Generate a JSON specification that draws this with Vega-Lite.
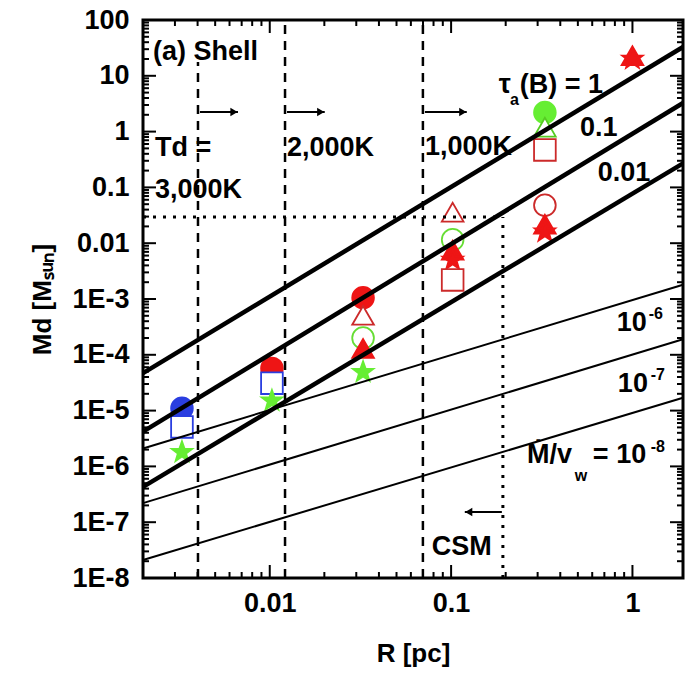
{
  "$schema": "https://vega.github.io/schema/vega-lite/v6.json",
  "width": 540,
  "height": 558,
  "autosize": {"type": "none"},
  "padding": {"left": 143, "top": 20, "right": 11, "bottom": 96},
  "background": "white",
  "config": {
    "view": {"stroke": "black", "strokeWidth": 3},
    "axis": {
      "domain": false, "grid": false, "ticks": false,
      "labelFont": "Liberation Sans", "labelFontWeight": "bold", "labelFontSize": 27, "labelColor": "black",
      "titleFont": "Liberation Sans", "titleFontWeight": "bold", "titleFontSize": 26, "titleColor": "black",
      "labelOverlap": false, "labelFlush": false
    },
    "text": {"font": "Liberation Sans", "fontWeight": "bold", "color": "black"}
  },
  "datasets": {
    "markers": [
      {"series": "blue filled circle", "R": 0.00328, "M": 1.1e-5},
      {"series": "blue open square", "R": 0.00328, "M": 5.1e-6},
      {"series": "green filled star", "R": 0.00328, "M": 1.8e-6},
      {"series": "red filled circle", "R": 0.01028, "M": 5.7e-5},
      {"series": "blue open square", "R": 0.01028, "M": 3.1e-5},
      {"series": "green filled star", "R": 0.01028, "M": 1.5e-5},
      {"series": "red filled circle", "R": 0.0327, "M": 1.05e-3},
      {"series": "red open triangle", "R": 0.0327, "M": 5.1e-4},
      {"series": "green open circle", "R": 0.0327, "M": 2.0e-4},
      {"series": "red filled triangle", "R": 0.0327, "M": 1.3e-4},
      {"series": "green filled star", "R": 0.0327, "M": 4.9e-5},
      {"series": "red open triangle", "R": 0.102, "M": 0.036},
      {"series": "green open circle", "R": 0.102, "M": 0.0115},
      {"series": "red filled triangle", "R": 0.102, "M": 0.0075},
      {"series": "red filled star", "R": 0.102, "M": 0.005},
      {"series": "red open square", "R": 0.102, "M": 0.0022},
      {"series": "green filled circle", "R": 0.329, "M": 2.2},
      {"series": "green open triangle", "R": 0.329, "M": 1.2},
      {"series": "red open square", "R": 0.329, "M": 0.47},
      {"series": "red open circle", "R": 0.329, "M": 0.048},
      {"series": "red filled triangle", "R": 0.329, "M": 0.022},
      {"series": "red filled star", "R": 0.329, "M": 0.016},
      {"series": "red filled triangle", "R": 1.0, "M": 23},
      {"series": "red filled star", "R": 1.0, "M": 20}
    ],
    "lines": [
      {"line": "tau=1", "width": "thick", "R": 0.002, "M": 4.7e-5},
      {"line": "tau=1", "width": "thick", "R": 1.9, "M": 32.8},
      {"line": "tau=0.1", "width": "thick", "R": 0.002, "M": 4.2e-6},
      {"line": "tau=0.1", "width": "thick", "R": 1.9, "M": 3.26},
      {"line": "tau=0.01", "width": "thick", "R": 0.002, "M": 4.3e-7},
      {"line": "tau=0.01", "width": "thick", "R": 1.9, "M": 0.27},
      {"line": "Mdot/vw=1e-6", "width": "thin", "R": 0.002, "M": 2.1e-6},
      {"line": "Mdot/vw=1e-6", "width": "thin", "R": 1.9, "M": 1.8e-3},
      {"line": "Mdot/vw=1e-7", "width": "thin", "R": 0.002, "M": 2.2e-7},
      {"line": "Mdot/vw=1e-7", "width": "thin", "R": 1.9, "M": 1.9e-4},
      {"line": "Mdot/vw=1e-8", "width": "thin", "R": 0.002, "M": 2.1e-8},
      {"line": "Mdot/vw=1e-8", "width": "thin", "R": 1.9, "M": 1.7e-5}
    ],
    "tdlines": [
      {"name": "3000K", "R": 0.00402, "M1": 1e-8, "M2": 17.7},
      {"name": "2000K", "R": 0.01214, "M1": 1e-8, "M2": 100},
      {"name": "1000K", "R": 0.0699, "M1": 1e-8, "M2": 100}
    ],
    "csmv": [{"R": 0.193, "M1": 1e-8, "M2": 0.0295}],
    "csmh": [{"R1": 0.002, "R2": 0.193, "M": 0.0295}],
    "arrows": [
      {"R1": 0.00412, "R2": 0.00668, "head": 0.00635, "M": 2.24, "dir": "right"},
      {"R1": 0.01245, "R2": 0.0201, "head": 0.0191, "M": 2.24, "dir": "right"},
      {"R1": 0.0717, "R2": 0.122, "head": 0.116, "M": 2.24, "dir": "right"},
      {"R1": 0.1905, "R2": 0.119, "head": 0.125, "M": 1.52e-7, "dir": "left"}
    ],
    "ticks": [
      {"R1":0.003,"R2":0.003,"M1":1e-8,"M2":1.281e-8},{"R1":0.004,"R2":0.004,"M1":1e-8,"M2":1.281e-8},{"R1":0.005,"R2":0.005,"M1":1e-8,"M2":1.281e-8},{"R1":0.006,"R2":0.006,"M1":1e-8,"M2":1.281e-8},{"R1":0.007,"R2":0.007,"M1":1e-8,"M2":1.281e-8},{"R1":0.008,"R2":0.008,"M1":1e-8,"M2":1.281e-8},{"R1":0.009,"R2":0.009,"M1":1e-8,"M2":1.281e-8},
      {"R1":0.01,"R2":0.01,"M1":1e-8,"M2":1.71e-8},
      {"R1":0.02,"R2":0.02,"M1":1e-8,"M2":1.281e-8},{"R1":0.03,"R2":0.03,"M1":1e-8,"M2":1.281e-8},{"R1":0.04,"R2":0.04,"M1":1e-8,"M2":1.281e-8},{"R1":0.05,"R2":0.05,"M1":1e-8,"M2":1.281e-8},{"R1":0.06,"R2":0.06,"M1":1e-8,"M2":1.281e-8},{"R1":0.07,"R2":0.07,"M1":1e-8,"M2":1.281e-8},{"R1":0.08,"R2":0.08,"M1":1e-8,"M2":1.281e-8},{"R1":0.09,"R2":0.09,"M1":1e-8,"M2":1.281e-8},
      {"R1":0.1,"R2":0.1,"M1":1e-8,"M2":1.71e-8},
      {"R1":0.2,"R2":0.2,"M1":1e-8,"M2":1.281e-8},{"R1":0.3,"R2":0.3,"M1":1e-8,"M2":1.281e-8},{"R1":0.4,"R2":0.4,"M1":1e-8,"M2":1.281e-8},{"R1":0.5,"R2":0.5,"M1":1e-8,"M2":1.281e-8},{"R1":0.6,"R2":0.6,"M1":1e-8,"M2":1.281e-8},{"R1":0.7,"R2":0.7,"M1":1e-8,"M2":1.281e-8},{"R1":0.8,"R2":0.8,"M1":1e-8,"M2":1.281e-8},{"R1":0.9,"R2":0.9,"M1":1e-8,"M2":1.281e-8},
      {"R1":1,"R2":1,"M1":1e-8,"M2":1.71e-8},
      {"R1":0.003,"R2":0.003,"M1":100,"M2":78.1},{"R1":0.004,"R2":0.004,"M1":100,"M2":78.1},{"R1":0.005,"R2":0.005,"M1":100,"M2":78.1},{"R1":0.006,"R2":0.006,"M1":100,"M2":78.1},{"R1":0.007,"R2":0.007,"M1":100,"M2":78.1},{"R1":0.008,"R2":0.008,"M1":100,"M2":78.1},{"R1":0.009,"R2":0.009,"M1":100,"M2":78.1},
      {"R1":0.01,"R2":0.01,"M1":100,"M2":58.5},
      {"R1":0.02,"R2":0.02,"M1":100,"M2":78.1},{"R1":0.03,"R2":0.03,"M1":100,"M2":78.1},{"R1":0.04,"R2":0.04,"M1":100,"M2":78.1},{"R1":0.05,"R2":0.05,"M1":100,"M2":78.1},{"R1":0.06,"R2":0.06,"M1":100,"M2":78.1},{"R1":0.07,"R2":0.07,"M1":100,"M2":78.1},{"R1":0.08,"R2":0.08,"M1":100,"M2":78.1},{"R1":0.09,"R2":0.09,"M1":100,"M2":78.1},
      {"R1":0.1,"R2":0.1,"M1":100,"M2":58.5},
      {"R1":0.2,"R2":0.2,"M1":100,"M2":78.1},{"R1":0.3,"R2":0.3,"M1":100,"M2":78.1},{"R1":0.4,"R2":0.4,"M1":100,"M2":78.1},{"R1":0.5,"R2":0.5,"M1":100,"M2":78.1},{"R1":0.6,"R2":0.6,"M1":100,"M2":78.1},{"R1":0.7,"R2":0.7,"M1":100,"M2":78.1},{"R1":0.8,"R2":0.8,"M1":100,"M2":78.1},{"R1":0.9,"R2":0.9,"M1":100,"M2":78.1},
      {"R1":1,"R2":1,"M1":100,"M2":58.5},

      {"R1":0.002,"R2":0.002158,"M1":2e-8,"M2":2e-8},{"R1":0.002,"R2":0.002158,"M1":3e-8,"M2":3e-8},{"R1":0.002,"R2":0.002158,"M1":4e-8,"M2":4e-8},{"R1":0.002,"R2":0.002158,"M1":5e-8,"M2":5e-8},{"R1":0.002,"R2":0.002158,"M1":6e-8,"M2":6e-8},{"R1":0.002,"R2":0.002158,"M1":7e-8,"M2":7e-8},{"R1":0.002,"R2":0.002158,"M1":8e-8,"M2":8e-8},{"R1":0.002,"R2":0.002158,"M1":9e-8,"M2":9e-8},
      {"R1":0.002,"R2":0.002359,"M1":1e-7,"M2":1e-7},
      {"R1":0.002,"R2":0.002158,"M1":2e-7,"M2":2e-7},{"R1":0.002,"R2":0.002158,"M1":3e-7,"M2":3e-7},{"R1":0.002,"R2":0.002158,"M1":4e-7,"M2":4e-7},{"R1":0.002,"R2":0.002158,"M1":5e-7,"M2":5e-7},{"R1":0.002,"R2":0.002158,"M1":6e-7,"M2":6e-7},{"R1":0.002,"R2":0.002158,"M1":7e-7,"M2":7e-7},{"R1":0.002,"R2":0.002158,"M1":8e-7,"M2":8e-7},{"R1":0.002,"R2":0.002158,"M1":9e-7,"M2":9e-7},
      {"R1":0.002,"R2":0.002359,"M1":1e-6,"M2":1e-6},
      {"R1":0.002,"R2":0.002158,"M1":2e-6,"M2":2e-6},{"R1":0.002,"R2":0.002158,"M1":3e-6,"M2":3e-6},{"R1":0.002,"R2":0.002158,"M1":4e-6,"M2":4e-6},{"R1":0.002,"R2":0.002158,"M1":5e-6,"M2":5e-6},{"R1":0.002,"R2":0.002158,"M1":6e-6,"M2":6e-6},{"R1":0.002,"R2":0.002158,"M1":7e-6,"M2":7e-6},{"R1":0.002,"R2":0.002158,"M1":8e-6,"M2":8e-6},{"R1":0.002,"R2":0.002158,"M1":9e-6,"M2":9e-6},
      {"R1":0.002,"R2":0.002359,"M1":1e-5,"M2":1e-5},
      {"R1":0.002,"R2":0.002158,"M1":2e-5,"M2":2e-5},{"R1":0.002,"R2":0.002158,"M1":3e-5,"M2":3e-5},{"R1":0.002,"R2":0.002158,"M1":4e-5,"M2":4e-5},{"R1":0.002,"R2":0.002158,"M1":5e-5,"M2":5e-5},{"R1":0.002,"R2":0.002158,"M1":6e-5,"M2":6e-5},{"R1":0.002,"R2":0.002158,"M1":7e-5,"M2":7e-5},{"R1":0.002,"R2":0.002158,"M1":8e-5,"M2":8e-5},{"R1":0.002,"R2":0.002158,"M1":9e-5,"M2":9e-5},
      {"R1":0.002,"R2":0.002359,"M1":1e-4,"M2":1e-4},
      {"R1":0.002,"R2":0.002158,"M1":2e-4,"M2":2e-4},{"R1":0.002,"R2":0.002158,"M1":3e-4,"M2":3e-4},{"R1":0.002,"R2":0.002158,"M1":4e-4,"M2":4e-4},{"R1":0.002,"R2":0.002158,"M1":5e-4,"M2":5e-4},{"R1":0.002,"R2":0.002158,"M1":6e-4,"M2":6e-4},{"R1":0.002,"R2":0.002158,"M1":7e-4,"M2":7e-4},{"R1":0.002,"R2":0.002158,"M1":8e-4,"M2":8e-4},{"R1":0.002,"R2":0.002158,"M1":9e-4,"M2":9e-4},
      {"R1":0.002,"R2":0.002359,"M1":0.001,"M2":0.001},
      {"R1":0.002,"R2":0.002158,"M1":0.002,"M2":0.002},{"R1":0.002,"R2":0.002158,"M1":0.003,"M2":0.003},{"R1":0.002,"R2":0.002158,"M1":0.004,"M2":0.004},{"R1":0.002,"R2":0.002158,"M1":0.005,"M2":0.005},{"R1":0.002,"R2":0.002158,"M1":0.006,"M2":0.006},{"R1":0.002,"R2":0.002158,"M1":0.007,"M2":0.007},{"R1":0.002,"R2":0.002158,"M1":0.008,"M2":0.008},{"R1":0.002,"R2":0.002158,"M1":0.009,"M2":0.009},
      {"R1":0.002,"R2":0.002359,"M1":0.01,"M2":0.01},
      {"R1":0.002,"R2":0.002158,"M1":0.02,"M2":0.02},{"R1":0.002,"R2":0.002158,"M1":0.03,"M2":0.03},{"R1":0.002,"R2":0.002158,"M1":0.04,"M2":0.04},{"R1":0.002,"R2":0.002158,"M1":0.05,"M2":0.05},{"R1":0.002,"R2":0.002158,"M1":0.06,"M2":0.06},{"R1":0.002,"R2":0.002158,"M1":0.07,"M2":0.07},{"R1":0.002,"R2":0.002158,"M1":0.08,"M2":0.08},{"R1":0.002,"R2":0.002158,"M1":0.09,"M2":0.09},
      {"R1":0.002,"R2":0.002359,"M1":0.1,"M2":0.1},
      {"R1":0.002,"R2":0.002158,"M1":0.2,"M2":0.2},{"R1":0.002,"R2":0.002158,"M1":0.3,"M2":0.3},{"R1":0.002,"R2":0.002158,"M1":0.4,"M2":0.4},{"R1":0.002,"R2":0.002158,"M1":0.5,"M2":0.5},{"R1":0.002,"R2":0.002158,"M1":0.6,"M2":0.6},{"R1":0.002,"R2":0.002158,"M1":0.7,"M2":0.7},{"R1":0.002,"R2":0.002158,"M1":0.8,"M2":0.8},{"R1":0.002,"R2":0.002158,"M1":0.9,"M2":0.9},
      {"R1":0.002,"R2":0.002359,"M1":1,"M2":1},
      {"R1":0.002,"R2":0.002158,"M1":2,"M2":2},{"R1":0.002,"R2":0.002158,"M1":3,"M2":3},{"R1":0.002,"R2":0.002158,"M1":4,"M2":4},{"R1":0.002,"R2":0.002158,"M1":5,"M2":5},{"R1":0.002,"R2":0.002158,"M1":6,"M2":6},{"R1":0.002,"R2":0.002158,"M1":7,"M2":7},{"R1":0.002,"R2":0.002158,"M1":8,"M2":8},{"R1":0.002,"R2":0.002158,"M1":9,"M2":9},
      {"R1":0.002,"R2":0.002359,"M1":10,"M2":10},
      {"R1":0.002,"R2":0.002158,"M1":20,"M2":20},{"R1":0.002,"R2":0.002158,"M1":30,"M2":30},{"R1":0.002,"R2":0.002158,"M1":40,"M2":40},{"R1":0.002,"R2":0.002158,"M1":50,"M2":50},{"R1":0.002,"R2":0.002158,"M1":60,"M2":60},{"R1":0.002,"R2":0.002158,"M1":70,"M2":70},{"R1":0.002,"R2":0.002158,"M1":80,"M2":80},{"R1":0.002,"R2":0.002158,"M1":90,"M2":90},

      {"R1":1.9,"R2":1.7606,"M1":2e-8,"M2":2e-8},{"R1":1.9,"R2":1.7606,"M1":3e-8,"M2":3e-8},{"R1":1.9,"R2":1.7606,"M1":4e-8,"M2":4e-8},{"R1":1.9,"R2":1.7606,"M1":5e-8,"M2":5e-8},{"R1":1.9,"R2":1.7606,"M1":6e-8,"M2":6e-8},{"R1":1.9,"R2":1.7606,"M1":7e-8,"M2":7e-8},{"R1":1.9,"R2":1.7606,"M1":8e-8,"M2":8e-8},{"R1":1.9,"R2":1.7606,"M1":9e-8,"M2":9e-8},
      {"R1":1.9,"R2":1.611,"M1":1e-7,"M2":1e-7},
      {"R1":1.9,"R2":1.7606,"M1":2e-7,"M2":2e-7},{"R1":1.9,"R2":1.7606,"M1":3e-7,"M2":3e-7},{"R1":1.9,"R2":1.7606,"M1":4e-7,"M2":4e-7},{"R1":1.9,"R2":1.7606,"M1":5e-7,"M2":5e-7},{"R1":1.9,"R2":1.7606,"M1":6e-7,"M2":6e-7},{"R1":1.9,"R2":1.7606,"M1":7e-7,"M2":7e-7},{"R1":1.9,"R2":1.7606,"M1":8e-7,"M2":8e-7},{"R1":1.9,"R2":1.7606,"M1":9e-7,"M2":9e-7},
      {"R1":1.9,"R2":1.611,"M1":1e-6,"M2":1e-6},
      {"R1":1.9,"R2":1.7606,"M1":2e-6,"M2":2e-6},{"R1":1.9,"R2":1.7606,"M1":3e-6,"M2":3e-6},{"R1":1.9,"R2":1.7606,"M1":4e-6,"M2":4e-6},{"R1":1.9,"R2":1.7606,"M1":5e-6,"M2":5e-6},{"R1":1.9,"R2":1.7606,"M1":6e-6,"M2":6e-6},{"R1":1.9,"R2":1.7606,"M1":7e-6,"M2":7e-6},{"R1":1.9,"R2":1.7606,"M1":8e-6,"M2":8e-6},{"R1":1.9,"R2":1.7606,"M1":9e-6,"M2":9e-6},
      {"R1":1.9,"R2":1.611,"M1":1e-5,"M2":1e-5},
      {"R1":1.9,"R2":1.7606,"M1":2e-5,"M2":2e-5},{"R1":1.9,"R2":1.7606,"M1":3e-5,"M2":3e-5},{"R1":1.9,"R2":1.7606,"M1":4e-5,"M2":4e-5},{"R1":1.9,"R2":1.7606,"M1":5e-5,"M2":5e-5},{"R1":1.9,"R2":1.7606,"M1":6e-5,"M2":6e-5},{"R1":1.9,"R2":1.7606,"M1":7e-5,"M2":7e-5},{"R1":1.9,"R2":1.7606,"M1":8e-5,"M2":8e-5},{"R1":1.9,"R2":1.7606,"M1":9e-5,"M2":9e-5},
      {"R1":1.9,"R2":1.611,"M1":1e-4,"M2":1e-4},
      {"R1":1.9,"R2":1.7606,"M1":2e-4,"M2":2e-4},{"R1":1.9,"R2":1.7606,"M1":3e-4,"M2":3e-4},{"R1":1.9,"R2":1.7606,"M1":4e-4,"M2":4e-4},{"R1":1.9,"R2":1.7606,"M1":5e-4,"M2":5e-4},{"R1":1.9,"R2":1.7606,"M1":6e-4,"M2":6e-4},{"R1":1.9,"R2":1.7606,"M1":7e-4,"M2":7e-4},{"R1":1.9,"R2":1.7606,"M1":8e-4,"M2":8e-4},{"R1":1.9,"R2":1.7606,"M1":9e-4,"M2":9e-4},
      {"R1":1.9,"R2":1.611,"M1":0.001,"M2":0.001},
      {"R1":1.9,"R2":1.7606,"M1":0.002,"M2":0.002},{"R1":1.9,"R2":1.7606,"M1":0.003,"M2":0.003},{"R1":1.9,"R2":1.7606,"M1":0.004,"M2":0.004},{"R1":1.9,"R2":1.7606,"M1":0.005,"M2":0.005},{"R1":1.9,"R2":1.7606,"M1":0.006,"M2":0.006},{"R1":1.9,"R2":1.7606,"M1":0.007,"M2":0.007},{"R1":1.9,"R2":1.7606,"M1":0.008,"M2":0.008},{"R1":1.9,"R2":1.7606,"M1":0.009,"M2":0.009},
      {"R1":1.9,"R2":1.611,"M1":0.01,"M2":0.01},
      {"R1":1.9,"R2":1.7606,"M1":0.02,"M2":0.02},{"R1":1.9,"R2":1.7606,"M1":0.03,"M2":0.03},{"R1":1.9,"R2":1.7606,"M1":0.04,"M2":0.04},{"R1":1.9,"R2":1.7606,"M1":0.05,"M2":0.05},{"R1":1.9,"R2":1.7606,"M1":0.06,"M2":0.06},{"R1":1.9,"R2":1.7606,"M1":0.07,"M2":0.07},{"R1":1.9,"R2":1.7606,"M1":0.08,"M2":0.08},{"R1":1.9,"R2":1.7606,"M1":0.09,"M2":0.09},
      {"R1":1.9,"R2":1.611,"M1":0.1,"M2":0.1},
      {"R1":1.9,"R2":1.7606,"M1":0.2,"M2":0.2},{"R1":1.9,"R2":1.7606,"M1":0.3,"M2":0.3},{"R1":1.9,"R2":1.7606,"M1":0.4,"M2":0.4},{"R1":1.9,"R2":1.7606,"M1":0.5,"M2":0.5},{"R1":1.9,"R2":1.7606,"M1":0.6,"M2":0.6},{"R1":1.9,"R2":1.7606,"M1":0.7,"M2":0.7},{"R1":1.9,"R2":1.7606,"M1":0.8,"M2":0.8},{"R1":1.9,"R2":1.7606,"M1":0.9,"M2":0.9},
      {"R1":1.9,"R2":1.611,"M1":1,"M2":1},
      {"R1":1.9,"R2":1.7606,"M1":2,"M2":2},{"R1":1.9,"R2":1.7606,"M1":3,"M2":3},{"R1":1.9,"R2":1.7606,"M1":4,"M2":4},{"R1":1.9,"R2":1.7606,"M1":5,"M2":5},{"R1":1.9,"R2":1.7606,"M1":6,"M2":6},{"R1":1.9,"R2":1.7606,"M1":7,"M2":7},{"R1":1.9,"R2":1.7606,"M1":8,"M2":8},{"R1":1.9,"R2":1.7606,"M1":9,"M2":9},
      {"R1":1.9,"R2":1.611,"M1":10,"M2":10},
      {"R1":1.9,"R2":1.7606,"M1":20,"M2":20},{"R1":1.9,"R2":1.7606,"M1":30,"M2":30},{"R1":1.9,"R2":1.7606,"M1":40,"M2":40},{"R1":1.9,"R2":1.7606,"M1":50,"M2":50},{"R1":1.9,"R2":1.7606,"M1":60,"M2":60},{"R1":1.9,"R2":1.7606,"M1":70,"M2":70},{"R1":1.9,"R2":1.7606,"M1":80,"M2":80},{"R1":1.9,"R2":1.7606,"M1":90,"M2":90}
    ],
    "labels": [
      {"text": "(a) Shell", "R": 0.00227, "M": 26.7},
      {"text": "Td =", "R": 0.00233, "M": 0.508},
      {"text": "3,000K", "R": 0.00233, "M": 0.0898},
      {"text": "2,000K", "R": 0.01245, "M": 0.508},
      {"text": "1,000K", "R": 0.0717, "M": 0.525},
      {"text": "τ", "R": 0.1834, "M": 6.84},
      {"text": "(B) = 1", "R": 0.2393, "M": 6.84},
      {"text": "0.1", "R": 0.513, "M": 1.16},
      {"text": "0.01", "R": 0.644, "M": 0.181},
      {"text": "10", "R": 0.82, "M": 3.72e-4},
      {"text": "10", "R": 0.831, "M": 3.0e-5},
      {"text": "Ṁ/v", "R": 0.262, "M": 1.6e-6},
      {"text": "= 10", "R": 0.605, "M": 1.6e-6},
      {"text": "CSM", "R": 0.0783, "M": 3.6e-8}
    ],
    "scripts": [
      {"text": "a", "R": 0.211, "M": 3.68},
      {"text": "-6", "R": 1.23, "M": 5.38e-4},
      {"text": "-7", "R": 1.26, "M": 4.35e-5},
      {"text": "w", "R": 0.481, "M": 6.7e-7},
      {"text": "-8", "R": 1.26, "M": 2.23e-6}
    ]
  },
  "layer": [
    {
      "data": {"name": "markers"},
      "mark": {"type": "point", "filled": true, "size": 470, "strokeWidth": 1.8, "opacity": 1},
      "encoding": {
        "x": {
          "field": "R", "type": "quantitative",
          "scale": {"type": "log", "domain": [0.002, 1.9], "nice": false},
          "axis": {
            "orient": "bottom", "title": "R [pc]", "titlePadding": 24,
            "values": [0.01, 0.1, 1],
            "labelExpr": "format(datum.value, '~g')",
            "labelPadding": 12
          }
        },
        "y": {
          "field": "M", "type": "quantitative",
          "scale": {"type": "log", "domain": [1e-8, 100], "nice": false},
          "axis": {
            "orient": "left", "title": "Md [Mₛᵤₙ]", "titlePadding": 16,
            "values": [1e-8, 1e-7, 1e-6, 1e-5, 1e-4, 0.001, 0.01, 0.1, 1, 10, 100],
            "labelExpr": "datum.value >= 0.009 ? format(datum.value, '~g') : '1E-' + round(-log(datum.value)/LN10)",
            "labelPadding": 14
          }
        },
        "shape": {
          "field": "series", "type": "nominal", "legend": null,
          "scale": {
            "domain": ["blue filled circle","blue open square","green filled star","red filled circle","red open triangle","green open circle","red filled triangle","red filled star","red open square","green filled circle","green open triangle","red open circle"],
            "range": ["circle","square","M0,-1L0.235,-0.324L0.951,-0.309L0.38,0.124L0.588,0.809L0,0.4L-0.588,0.809L-0.38,0.124L-0.951,-0.309L-0.235,-0.324Z","circle","triangle-up","circle","triangle-up","M0,-1L0.235,-0.324L0.951,-0.309L0.38,0.124L0.588,0.809L0,0.4L-0.588,0.809L-0.38,0.124L-0.951,-0.309L-0.235,-0.324Z","square","circle","triangle-up","circle"]
          }
        },
        "stroke": {
          "field": "series", "type": "nominal", "legend": null,
          "scale": {
            "domain": ["blue filled circle","blue open square","green filled star","red filled circle","red open triangle","green open circle","red filled triangle","red filled star","red open square","green filled circle","green open triangle","red open circle"],
            "range": ["#2a3ee0","#2a3ee0","#66ee33","#ee1515","#cc2a2a","#66dd33","#ee1515","#ee1515","#cc2a2a","#66ee33","#55cc22","#cc2a2a"]
          }
        },
        "fill": {
          "field": "series", "type": "nominal", "legend": null,
          "scale": {
            "domain": ["blue filled circle","blue open square","green filled star","red filled circle","red open triangle","green open circle","red filled triangle","red filled star","red open square","green filled circle","green open triangle","red open circle"],
            "range": ["#2a3ee0","#ffffff","#66ee33","#ee1515","#ffffff","#ffffff","#ee1515","#ee1515","#ffffff","#66ee33","#ffffff","#ffffff"]
          }
        }
      }
    },
    {
      "data": {"name": "lines"},
      "transform": [{"filter": "datum.width == 'thick'"}],
      "mark": {"type": "line", "color": "black", "strokeWidth": 4.5},
      "encoding": {
        "x": {"field": "R", "type": "quantitative", "axis": null},
        "y": {"field": "M", "type": "quantitative", "axis": null},
        "detail": {"field": "line", "type": "nominal"}
      }
    },
    {
      "data": {"name": "lines"},
      "transform": [{"filter": "datum.width == 'thin'"}],
      "mark": {"type": "line", "color": "black", "strokeWidth": 2},
      "encoding": {
        "x": {"field": "R", "type": "quantitative", "axis": null},
        "y": {"field": "M", "type": "quantitative", "axis": null},
        "detail": {"field": "line", "type": "nominal"}
      }
    },
    {
      "data": {"name": "tdlines"},
      "mark": {"type": "rule", "color": "black", "strokeWidth": 2.5, "strokeDash": [9, 7]},
      "encoding": {
        "x": {"field": "R", "type": "quantitative", "axis": null},
        "y": {"field": "M1", "type": "quantitative", "axis": null},
        "y2": {"field": "M2"}
      }
    },
    {
      "data": {"name": "csmv"},
      "mark": {"type": "rule", "color": "black", "strokeWidth": 3, "strokeDash": [3, 7]},
      "encoding": {
        "x": {"field": "R", "type": "quantitative", "axis": null},
        "y": {"field": "M1", "type": "quantitative", "axis": null},
        "y2": {"field": "M2"}
      }
    },
    {
      "data": {"name": "csmh"},
      "mark": {"type": "rule", "color": "black", "strokeWidth": 3, "strokeDash": [3, 7]},
      "encoding": {
        "x": {"field": "R1", "type": "quantitative", "axis": null},
        "x2": {"field": "R2"},
        "y": {"field": "M", "type": "quantitative", "axis": null}
      }
    },
    {
      "data": {"name": "arrows"},
      "mark": {"type": "rule", "color": "black", "strokeWidth": 2},
      "encoding": {
        "x": {"field": "R1", "type": "quantitative", "axis": null},
        "x2": {"field": "R2"},
        "y": {"field": "M", "type": "quantitative", "axis": null}
      }
    },
    {
      "data": {"name": "arrows"},
      "mark": {"type": "point", "filled": true, "color": "black", "size": 70, "opacity": 1},
      "encoding": {
        "x": {"field": "head", "type": "quantitative", "axis": null},
        "y": {"field": "M", "type": "quantitative", "axis": null},
        "shape": {"field": "dir", "type": "nominal", "legend": null, "scale": {"domain": ["right", "left"], "range": ["triangle-right", "triangle-left"]}}
      }
    },
    {
      "data": {"name": "ticks"},
      "mark": {"type": "rule", "color": "black", "strokeWidth": 2},
      "encoding": {
        "x": {"field": "R1", "type": "quantitative", "axis": null},
        "x2": {"field": "R2"},
        "y": {"field": "M1", "type": "quantitative", "axis": null},
        "y2": {"field": "M2"}
      }
    },
    {
      "data": {"name": "labels"},
      "mark": {"type": "text", "align": "left", "baseline": "middle", "fontSize": 27},
      "encoding": {
        "x": {"field": "R", "type": "quantitative", "axis": null},
        "y": {"field": "M", "type": "quantitative", "axis": null},
        "text": {"field": "text"}
      }
    },
    {
      "data": {"name": "scripts"},
      "mark": {"type": "text", "align": "left", "baseline": "middle", "fontSize": 16},
      "encoding": {
        "x": {"field": "R", "type": "quantitative", "axis": null},
        "y": {"field": "M", "type": "quantitative", "axis": null},
        "text": {"field": "text"}
      }
    }
  ],
  "resolve": {"axis": {"x": "independent", "y": "independent"}, "scale": {"shape": "independent"}}
}
